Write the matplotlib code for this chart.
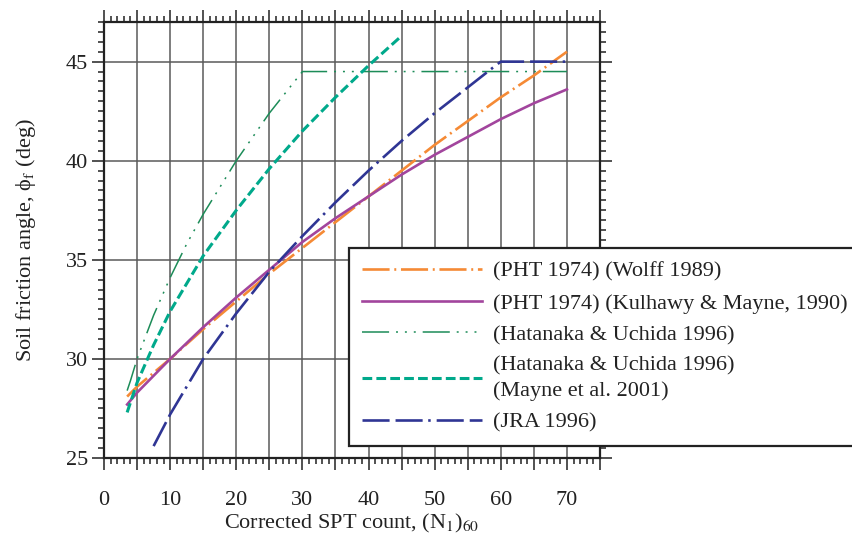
import numpy as np
import matplotlib
matplotlib.use('Agg')
import matplotlib.pyplot as plt
from matplotlib.ticker import MultipleLocator, FuncFormatter

# %% Dados -----------------------------------------------------

n_wolff = [3.5, 5, 10, 15, 20, 25, 30, 35, 40, 45, 50, 55, 60, 65, 70]
phi_wolff = [28.1, 28.6, 30.0, 31.5, 32.9, 34.3, 35.6, 36.9, 38.2, 39.5, 40.8, 42.0, 43.2, 44.3, 45.5]

n_km = [3.5, 5, 10, 15, 20, 25, 30, 35, 40, 45, 50, 55, 60, 65, 70]
phi_km = [27.7, 28.3, 30.0, 31.6, 33.1, 34.5, 35.9, 37.1, 38.2, 39.3, 40.3, 41.2, 42.1, 42.9, 43.6]

n_hu = [3.5, 4, 5, 7.5, 10, 12.5, 15, 20, 25, 30, 70]
phi_hu = [28.4, 28.9, 30.0, 32.2, 34.1, 35.8, 37.3, 40.0, 42.4, 44.5, 44.5]

n_mayne = [3.5, 5, 7.5, 10, 15, 20, 25, 30, 35, 40, 45]
phi_mayne = [27.3, 28.8, 30.7, 32.4, 35.2, 37.5, 39.6, 41.5, 43.2, 44.8, 46.3]

n_jra = [7.5, 10, 15, 20, 25, 30, 35, 40, 45, 50, 55, 59.2, 60, 70]
phi_jra = [25.6, 27.2, 30.0, 32.3, 34.4, 36.2, 37.9, 39.5, 41.0, 42.4, 43.7, 44.8, 45.0, 45.0]

rotulos = ['(PHT 1974) (Wolff 1989)',
           '(PHT 1974) (Kulhawy & Mayne, 1990)',
           '(Hatanaka & Uchida 1996)',
           '(Hatanaka & Uchida 1996)\n(Mayne et al. 2001)',
           '(JRA 1996)']

# %% Estilo ------------------------------------------------------

plt.rcParams['font.family'] = ['Liberation Serif', 'DejaVu Serif']
plt.rcParams['mathtext.fontset'] = 'stix'
plt.rcParams['lines.scale_dashes'] = False

fs = 16

fig = plt.figure(figsize=(8.52, 5.37), dpi=100)
ax = fig.add_axes([104/852, 1-458/537, 496/852, 436/537])

estilos = [
    dict(color='#F58A35', lw=1.9, dashes=(19.5, 3.4, 1.4, 3.4)),
    dict(color='#A2459D', lw=1.9),
    dict(color='#1C8C58', lw=1.1, dashes=(19.5, 5, 1.4, 5, 1.4, 5, 1.4, 5)),
    dict(color='#00A98B', lw=2.2, dashes=(7, 3)),
    dict(color='#2F3594', lw=1.9, dashes=(19.5, 4.3, 19.5, 4, 1.8, 4.3)),
]

series = [(n_wolff, phi_wolff), (n_km, phi_km), (n_hu, phi_hu),
          (n_mayne, phi_mayne), (n_jra, phi_jra)]

handles = []
for (n, phi), est in zip(series, estilos):
    ln, = ax.plot(n, phi, **est, zorder=3)
    handles.append(ln)

# %% Eixos -------------------------------------------------------

ax.set_xlim(0, 75)
ax.set_ylim(25, 47)
ax.xaxis.set_major_locator(MultipleLocator(5))
ax.xaxis.set_minor_locator(MultipleLocator(1))
ax.yaxis.set_major_locator(MultipleLocator(5))
ax.yaxis.set_minor_locator(MultipleLocator(0.5))
ax.xaxis.set_major_formatter(FuncFormatter(
    lambda v, p: '%d' % v if (v % 10 == 0 and v < 75) else ''))
ax.yaxis.set_major_formatter(FuncFormatter(lambda v, p: '%d' % v))

ax.tick_params(which='both', direction='out', top=True, right=True,
               width=1.1, colors='#222222', labelcolor='#222222')
ax.tick_params(which='major', length=8.5, labelsize=fs)
ax.tick_params(which='minor', length=4.5)
ax.tick_params(axis='x', which='major', pad=15.5)
ax.tick_params(axis='y', which='major', pad=3)

for s in ax.spines.values():
    s.set_linewidth(1.6)
    s.set_color('#222222')

ax.grid(which='major', color='#5a5a5a', lw=1.1)
ax.set_axisbelow(True)

ax.set_xlabel('Corrected SPT count, (N$_1$)$_{60}$', fontsize=fs, labelpad=1,
              color='#222222')
ax.set_ylabel('Soil friction angle, \u03d5$_\\mathrm{f}$ (deg)', fontsize=fs,
              labelpad=20, color='#222222')

# %% Legenda -----------------------------------------------------

leg = fig.legend(handles, rotulos, loc='upper left',
                 bbox_to_anchor=(349/852, 1-248/537), fontsize=fs,
                 frameon=True, fancybox=False, framealpha=1,
                 edgecolor='#222222', handlelength=5.4, handletextpad=0.5,
                 labelspacing=0.5, borderpad=0.6, borderaxespad=0)
leg.get_frame().set_linewidth(1.6)
for t in leg.get_texts():
    t.set_color('#222222')
    t.set_linespacing(1.4)

fig.savefig('out.png', dpi=100)
